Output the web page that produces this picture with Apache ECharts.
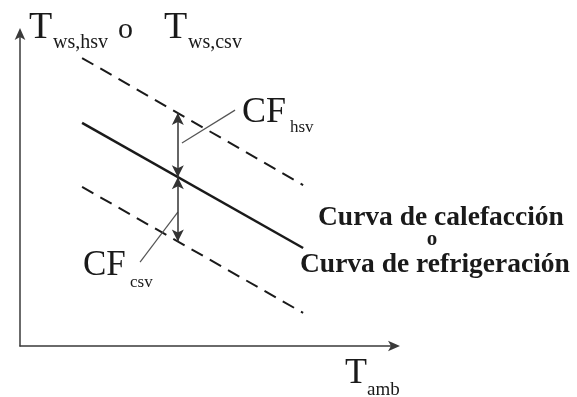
<!DOCTYPE html>
<html>
<head>
<meta charset="utf-8">
<script src="https://cdn.jsdelivr.net/npm/echarts@6/dist/echarts.min.js"></script>
<style>
  html, body { margin: 0; padding: 0; background: #ffffff; }
  #chart { width: 577px; height: 397px; }
</style>
</head>
<body>
<div id="chart"></div>
<script>
// Ambient temperature at the two ends of each curve (arbitrary units)
const tAmb = [1.66, 7.57];
// Heating / cooling curve (solid) and the shifted curves (dashed)
const curva = [7.15, 3.14];
const curvaHsv = [9.23, 5.16];
const curvaCsv = [5.10, 1.06];
// Position of the correction-factor arrows and their values on each curve
const tAmbCF = 4.22;
const cfPoints = { hsv: 7.47, base: 5.41, csv: 3.35 };
// Leader lines from the arrows to their labels
const leaderHsv = [[4.33, 6.51], [5.75, 7.56]];
const leaderCsv = [[4.22, 4.29], [3.21, 2.69]];

const serif = '"Liberation Serif", "DejaVu Serif", serif';
const ink = '#1a1a1a';

function pairs(xs, ys) { return xs.map((x, i) => [x, ys[i]]); }

function txt(x, y, text, size, weight, align) {
  return {
    type: 'text', x: x, y: y,
    style: {
      text: text, fill: ink,
      font: (weight || 'normal') + ' ' + size + 'px ' + serif,
      textAlign: align || 'left', textVerticalAlign: 'middle'
    }
  };
}

const chart = echarts.init(document.getElementById('chart'), null, { renderer: 'canvas' });

const axisCommon = {
  type: 'value', min: 0, max: 10,
  axisLine: { show: true, symbol: ['none', 'arrow'], symbolSize: [8, 12], symbolOffset: [0, 6],
              lineStyle: { color: '#3a3a3a', width: 1.5 } },
  axisTick: { show: false }, axisLabel: { show: false }, splitLine: { show: false }
};

chart.setOption({
  animation: false,
  backgroundColor: '#ffffff',
  grid: { left: 20, right: 183, top: 34, bottom: 51 },
  xAxis: Object.assign({}, axisCommon),
  yAxis: Object.assign({}, axisCommon),
  series: [
    { type: 'line', data: pairs(tAmb, curvaHsv), symbol: 'none',
      lineStyle: { color: ink, width: 2, type: [13, 8] } },
    { type: 'line', data: pairs(tAmb, curva), symbol: 'none',
      lineStyle: { color: ink, width: 2.5 } },
    { type: 'line', data: pairs(tAmb, curvaCsv), symbol: 'none',
      lineStyle: { color: ink, width: 2, type: [13, 8] } },
    { type: 'line', data: leaderHsv, symbol: 'none',
      lineStyle: { color: '#555', width: 1.2 } },
    { type: 'line', data: leaderCsv, symbol: 'none',
      lineStyle: { color: '#555', width: 1.2 } },
    { type: 'line', data: [], symbol: 'none',
      markLine: {
        silent: true, symbol: ['arrow', 'arrow'], symbolSize: [9, 12],
        label: { show: false },
        lineStyle: { color: '#333', width: 1.5, type: 'solid' },
        data: [
          [{ coord: [tAmbCF, cfPoints.base] }, { coord: [tAmbCF, cfPoints.hsv] }],
          [{ coord: [tAmbCF, cfPoints.base] }, { coord: [tAmbCF, cfPoints.csv] }]
        ]
      } }
  ],
  graphic: [
    txt(29, 28, 'T', 38), txt(53, 43, 'ws,hsv', 20),
    txt(118, 30, 'o', 30),
    txt(164, 28, 'T', 38), txt(188, 43, 'ws,csv', 20),
    txt(242, 113, 'CF', 36), txt(290, 128, 'hsv', 17),
    txt(83, 266, 'CF', 35), txt(130, 283, 'csv', 17),
    txt(345, 374, 'T', 36), txt(367, 390, 'amb', 19),
    txt(318, 218, 'Curva de calefacción', 27.5, 'bold'),
    txt(432, 240, 'o', 21, 'bold', 'center'),
    txt(300, 265, 'Curva de refrigeración', 27.5, 'bold')
  ]
});
</script>
</body>
</html>
